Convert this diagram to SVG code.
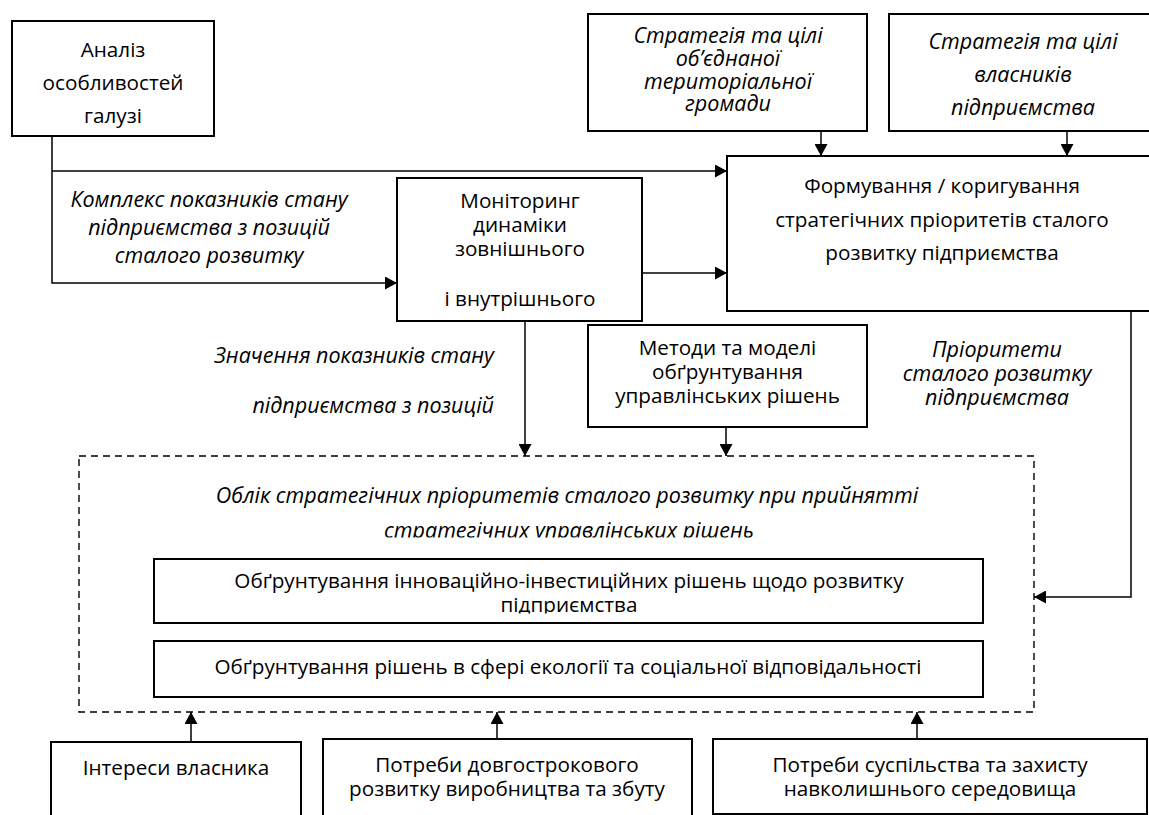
<svg xmlns="http://www.w3.org/2000/svg" width="1149" height="815" viewBox="0 0 1149 815">
<style>
.box{fill:#fff;stroke:#000;stroke-width:2}
.dash{fill:none;stroke:#000;stroke-width:1.4;stroke-dasharray:7 5}
.con{fill:none;stroke:#000;stroke-width:1.5}
text{font-family:"Open Sans","Noto Sans",sans-serif;font-size:20.7px;fill:#000;text-anchor:middle}
.it{font-style:italic;font-size:21.5px}
.r{text-anchor:end}
</style>
<defs>
<marker id="ah" markerUnits="userSpaceOnUse" markerWidth="13" markerHeight="13" refX="12" refY="6.5" orient="auto">
<path d="M0,0 L12,6.5 L0,13 z" fill="#000"/>
</marker>
<clipPath id="c1"><rect x="80" y="470" width="950" height="67.5"/></clipPath>
<clipPath id="c2"><rect x="155" y="560" width="827" height="53.5"/></clipPath>
</defs>
<rect width="1149" height="815" fill="#fff"/>

<g id="n-dashed">
<rect class="dash" x="79" y="456" width="955" height="256"/>
<g clip-path="url(#c1)">
<text class="it" x="567" y="503">Облік стратегічних пріоритетів сталого розвитку при прийнятті</text>
<text class="it" x="569" y="538">стратегічних управлінських рішень</text>
</g>
</g>

<g id="n-analysis">
<rect class="box" x="12" y="21" width="202" height="115"/>
<text x="113" y="57">Аналіз</text>
<text x="113" y="90">особливостей</text>
<text x="113" y="123">галузі</text>
</g>

<g id="n-otg">
<rect class="box" x="588" y="14" width="279" height="117"/>
<text class="it" x="728" y="43">Стратегія та цілі</text>
<text class="it" x="728" y="66">об’єднаної</text>
<text class="it" x="728" y="89">територіальної</text>
<text class="it" x="728" y="111">громади</text>
</g>

<g id="n-owners">
<rect class="box" x="889" y="14" width="270" height="117"/>
<text class="it" x="1023" y="49">Стратегія та цілі</text>
<text class="it" x="1023" y="82">власників</text>
<text class="it" x="1023" y="115">підприємства</text>
</g>

<g id="n-forming">
<rect class="box" x="727" y="156" width="432" height="155"/>
<text x="942" y="193">Формування / коригування</text>
<text x="942" y="227">стратегічних пріоритетів сталого</text>
<text x="942" y="260">розвитку підприємства</text>
</g>

<g id="n-monitoring">
<rect class="box" x="397" y="178" width="245" height="143"/>
<text x="520" y="208">Моніторинг</text>
<text x="520" y="232">динаміки</text>
<text x="520" y="256">зовнішнього</text>
<text x="520" y="306">і внутрішнього</text>
</g>

<g id="n-methods">
<rect class="box" x="588" y="325" width="279" height="102"/>
<text x="727.5" y="355">Методи та моделі</text>
<text x="727.5" y="379">обґрунтування</text>
<text x="727.5" y="403">управлінських рішень</text>
</g>

<g id="n-inner1">
<rect class="box" x="154" y="559" width="829" height="64"/>
<g clip-path="url(#c2)">
<text x="569" y="588">Обґрунтування інноваційно-інвестиційних рішень щодо розвитку</text>
<text x="569" y="612">підприємства</text>
</g>
</g>

<g id="n-inner2">
<rect class="box" x="154" y="641" width="829" height="56"/>
<text x="568" y="674">Обґрунтування рішень в сфері екології та соціальної відповідальності</text>
</g>

<g id="n-owner-interest">
<rect class="box" x="51" y="742" width="250" height="80"/>
<text x="176" y="775">Інтереси власника</text>
</g>

<g id="n-longterm">
<rect class="box" x="323" y="739" width="369" height="80"/>
<text x="507" y="772">Потреби довгострокового</text>
<text x="507" y="796">розвитку виробництва та збуту</text>
</g>

<g id="n-society">
<rect class="box" x="713" y="739" width="434" height="75"/>
<text x="930" y="772">Потреби суспільства та захисту</text>
<text x="930" y="796">навколишнього середовища</text>
</g>

<g id="labels">
<text class="it" x="209" y="207">Комплекс показників стану</text>
<text class="it" x="209" y="235">підприємства з позицій</text>
<text class="it" x="209" y="263">сталого розвитку</text>
<text class="it r" x="494" y="363">Значення показників стану</text>
<text class="it r" x="494" y="413">підприємства з позицій</text>
<text class="it" x="997" y="357">Пріоритети</text>
<text class="it" x="997" y="381">сталого розвитку</text>
<text class="it" x="997" y="405">підприємства</text>
</g>

<g id="connectors">
<path class="con" d="M52,136 V283 H397" marker-end="url(#ah)"/>
<path class="con" d="M52,171 H727" marker-end="url(#ah)"/>
<path class="con" d="M642,273 H727" marker-end="url(#ah)"/>
<path class="con" d="M821,131 V156" marker-end="url(#ah)"/>
<path class="con" d="M1067,131 V156" marker-end="url(#ah)"/>
<path class="con" d="M525,321 V456" marker-end="url(#ah)"/>
<path class="con" d="M726,427 V456" marker-end="url(#ah)"/>
<path class="con" d="M1131,311 V597 H1034" marker-end="url(#ah)"/>
<path class="con" d="M191,742 V712" marker-end="url(#ah)"/>
<path class="con" d="M497,739 V712" marker-end="url(#ah)"/>
<path class="con" d="M917,739 V712" marker-end="url(#ah)"/>
</g>
</svg>
